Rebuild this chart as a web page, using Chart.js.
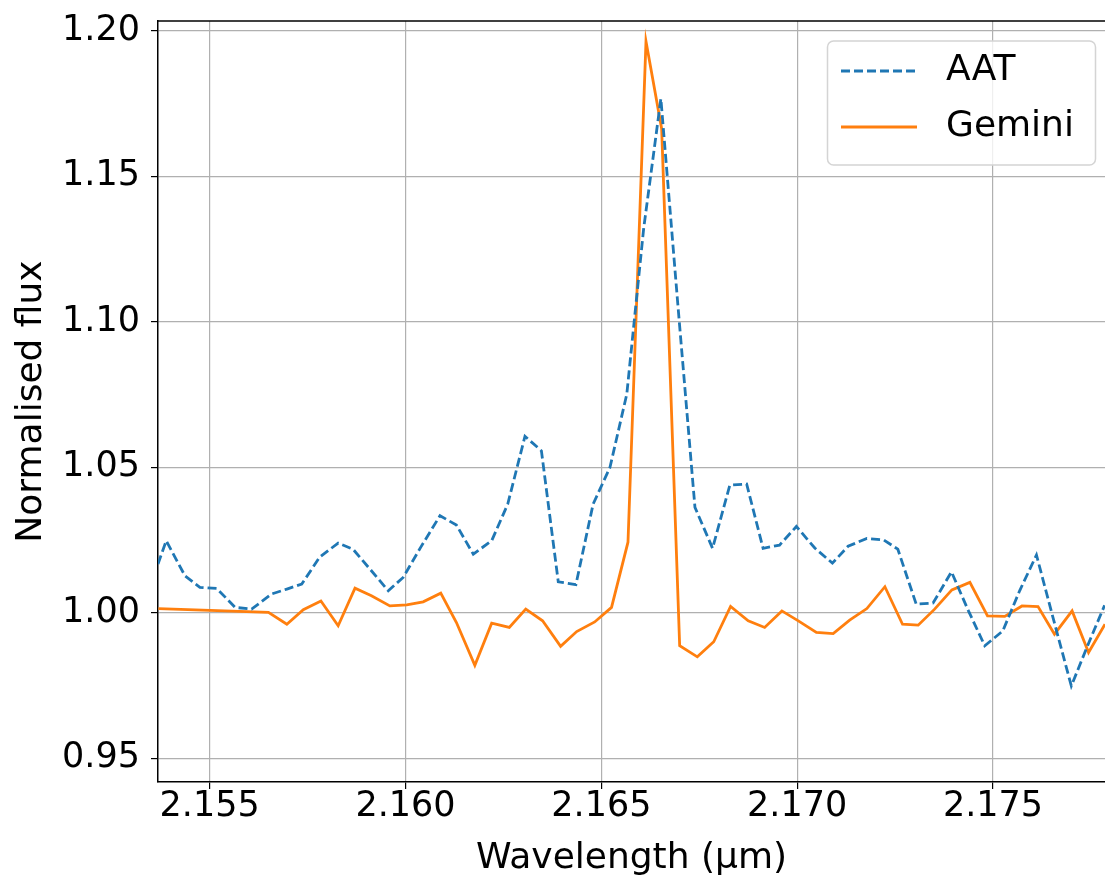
<!DOCTYPE html>
<html>
<head>
<meta charset="utf-8">
<script src="https://cdn.jsdelivr.net/npm/chart.js@4.4.1/dist/chart.umd.min.js"></script>
<style>
  html, body { margin: 0; padding: 0; background: #fff; }
  #wrap { width: 1105px; height: 880px; }
</style>
</head>
<body>
<div id="wrap"><canvas id="spectrum" width="1105" height="880"></canvas></div>
<script>
// wavelength (um) / normalised flux
const aatWave = [
  2.15368, 2.15389, 2.15437, 2.15475, 2.15518, 2.15565, 2.15607, 2.15658, 2.15697, 2.15735,
  2.15781, 2.15828, 2.15866, 2.15909, 2.15956, 2.15994, 2.16039, 2.16088, 2.16130, 2.16173,
  2.16220, 2.16261, 2.16305, 2.16347, 2.16390, 2.16435, 2.16479, 2.16522, 2.16565, 2.16608,
  2.16652, 2.16695, 2.16739, 2.16784, 2.16828, 2.16871, 2.16913, 2.16955, 2.16998, 2.17045,
  2.17090, 2.17130, 2.17178, 2.17221, 2.17257, 2.17304, 2.17347, 2.17394, 2.17435, 2.17479,
  2.17525, 2.17568, 2.17611, 2.17655, 2.17700, 2.17742, 2.17785
];
const aatFlux = [
  1.0167, 1.0247, 1.0126, 1.0087, 1.0083, 1.0018, 1.0012, 1.0064, 1.0081, 1.0098,
  1.0191, 1.0239, 1.0218, 1.0150, 1.0075, 1.0121, 1.0225, 1.0333, 1.0301, 1.0201,
  1.0247, 1.0373, 1.0606, 1.0556, 1.0106, 1.0096, 1.0373, 1.0499, 1.0751, 1.1319,
  1.1766, 1.1064, 1.0362, 1.0221, 1.0438, 1.0442, 1.0221, 1.0232, 1.0296, 1.0222,
  1.0170, 1.0228, 1.0255, 1.0250, 1.0218, 1.0029, 1.0033, 1.0140, 1.0013, 0.9886,
  0.9937, 1.0075, 1.0198, 0.9974, 0.9748, 0.9888, 1.0025
];

const geminiWave = [
  2.15369, 2.15650, 2.15697, 2.15739, 2.15784, 2.15828, 2.15871, 2.15913, 2.15960, 2.16003,
  2.16045, 2.16090, 2.16130, 2.16177, 2.16220, 2.16265, 2.16307, 2.16350, 2.16396, 2.16437,
  2.16483, 2.16526, 2.16568, 2.16614, 2.16654, 2.16700, 2.16745, 2.16787, 2.16830, 2.16875,
  2.16917, 2.16961, 2.17004, 2.17049, 2.17092, 2.17134, 2.17178, 2.17224, 2.17269, 2.17309,
  2.17351, 2.17395, 2.17441, 2.17486, 2.17530, 2.17574, 2.17615, 2.17657, 2.17702, 2.17744,
  2.17786
];
const geminiFlux = [
  1.0014, 1.0001, 0.9960, 1.0010, 1.0040, 0.9955, 1.0084, 1.0058, 1.0023, 1.0027,
  1.0037, 1.0067, 0.9966, 0.9819, 0.9964, 0.9949, 1.0012, 0.9972, 0.9884, 0.9935,
  0.9968, 1.0018, 1.0242, 1.1963, 1.1663, 0.9886, 0.9848, 0.9900, 1.0021, 0.9972,
  0.9949, 1.0006, 0.9971, 0.9932, 0.9928, 0.9974, 1.0014, 1.0089, 0.9960, 0.9957,
  1.0012, 1.0078, 1.0104, 0.9989, 0.9987, 1.0023, 1.0021, 0.9926, 1.0006, 0.9863,
  0.9960
];

const xTicks = [2.155, 2.160, 2.165, 2.170, 2.175];
const yTicks = [0.95, 1.00, 1.05, 1.10, 1.15, 1.20];

const FONT = "'DejaVu Sans', sans-serif";

function pairs(xs, ys) {
  return xs.map((x, i) => ({ x: x, y: ys[i] }));
}

// top spine + matplotlib style legend box
const framePlugin = {
  id: "frame",
  afterDatasetsDraw(chart) {
    const ctx = chart.ctx;
    const a = chart.chartArea;
    ctx.save();
    ctx.strokeStyle = "#000";
    ctx.lineWidth = 1.5;
    ctx.beginPath();
    ctx.moveTo(a.left, a.top);
    ctx.lineTo(a.right, a.top);
    ctx.stroke();

    // legend
    const bx = 827.5, by = 41, bw = 268, bh = 124;
    ctx.beginPath();
    ctx.roundRect(bx, by, bw, bh, 6);
    ctx.fillStyle = "rgba(255,255,255,0.8)";
    ctx.fill();
    ctx.strokeStyle = "#d4d4d4";
    ctx.lineWidth = 1.5;
    ctx.stroke();

    const rows = [71, 127];
    chart.data.datasets.forEach((ds, i) => {
      const y = rows[i];
      ctx.beginPath();
      ctx.setLineDash(ds.borderDash || []);
      ctx.strokeStyle = ds.borderColor;
      ctx.lineWidth = ds.borderWidth;
      ctx.moveTo(841, y);
      ctx.lineTo(917, y);
      ctx.stroke();
      ctx.setLineDash([]);
      ctx.fillStyle = "#000";
      ctx.font = "36px " + FONT;
      ctx.textBaseline = "middle";
      ctx.textAlign = "left";
      ctx.fillText(ds.label, 946, y);
    });
    ctx.restore();
  }
};

new Chart(document.getElementById("spectrum"), {
  type: "line",
  data: {
    datasets: [
      {
        label: "AAT",
        data: pairs(aatWave, aatFlux),
        borderColor: "#1f77b4",
        borderWidth: 2.8,
        borderDash: [9, 4],
        pointRadius: 0,
        tension: 0,
        fill: false,
      },
      {
        label: "Gemini",
        data: pairs(geminiWave, geminiFlux),
        borderColor: "#ff7f0e",
        borderWidth: 2.8,
        pointRadius: 0,
        tension: 0,
        fill: false,
      },
    ],
  },
  options: {
    responsive: false,
    animation: false,
    devicePixelRatio: 1,
    layout: { padding: { top: 21, right: 0, left: 0, bottom: 0 } },
    plugins: {
      legend: { display: false },
      tooltip: { enabled: false },
    },
    scales: {
      x: {
        type: "linear",
        min: 2.15368,
        max: 2.17786,
        afterBuildTicks: (s) => { s.ticks = xTicks.map((v) => ({ value: v })); },
        afterFit: (s) => {
          s.height = 98;
          s.paddingLeft = 0;
          s.paddingRight = 0;
        },
        ticks: {
          color: "#000",
          font: { family: FONT, size: 35 },
          padding: -3,
          maxRotation: 0,
          callback: (v) => v.toFixed(3),
        },
        grid: { color: "#b0b0b0", lineWidth: 1.2, tickColor: "#000", tickLength: 7 },
        border: { display: true, color: "#000", width: 1.5 },
        title: {
          display: true,
          text: "Wavelength (μm)",
          color: "#000",
          font: { family: FONT, size: 36 },
          padding: { top: 0, bottom: 0 },
        },
      },
      y: {
        type: "linear",
        min: 0.9418,
        max: 1.2033,
        afterBuildTicks: (s) => { s.ticks = yTicks.map((v) => ({ value: v })); },
        afterFit: (s) => {
          s.width = 158;
          s.paddingTop = 0;
          s.paddingBottom = 0;
        },
        ticks: {
          color: "#000",
          font: { family: FONT, size: 35 },
          padding: 11,
          callback: (v) => v.toFixed(2),
        },
        grid: { color: "#b0b0b0", lineWidth: 1.2, tickColor: "#000", tickLength: 7 },
        border: { display: true, color: "#000", width: 1.5 },
        title: {
          display: true,
          text: "Normalised flux",
          color: "#000",
          font: { family: FONT, size: 36 },
          padding: { top: 10, bottom: 0 },
        },
      },
    },
  },
  plugins: [framePlugin],
});
</script>
</body>
</html>
